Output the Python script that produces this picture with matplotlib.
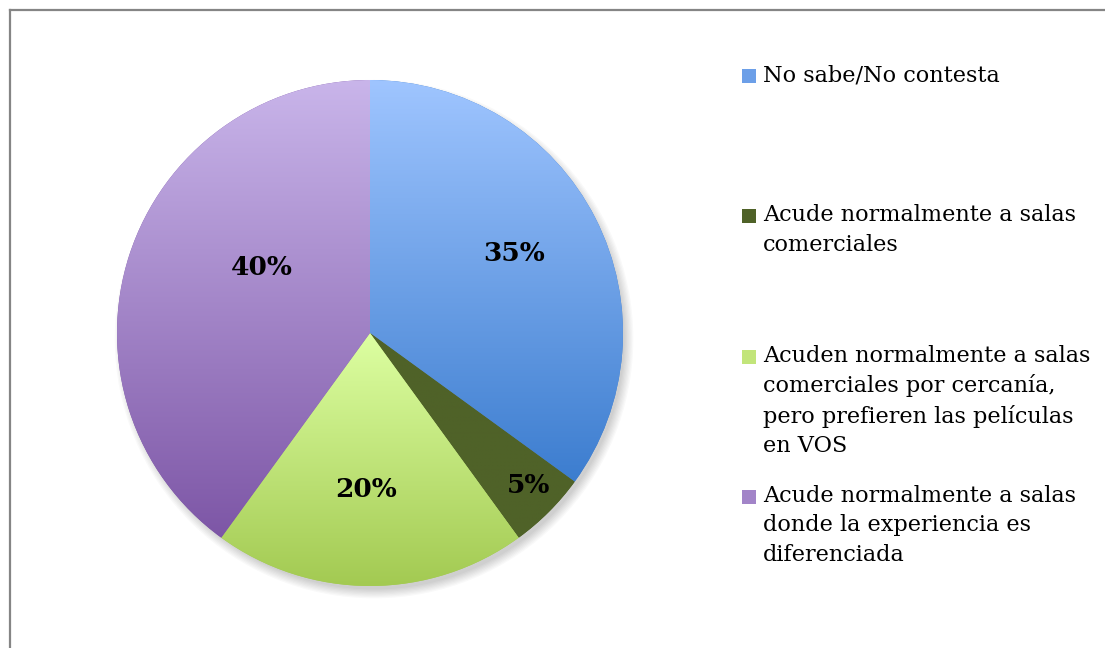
import numpy as np
import matplotlib
matplotlib.use("Agg")
import matplotlib.pyplot as plt
from matplotlib.lines import Line2D
from matplotlib.patches import Rectangle, Circle

labels = [
    "No sabe/No contesta",
    "Acude normalmente a salas\ncomerciales",
    "Acuden normalmente a salas\ncomerciales por cercanía,\npero prefieren las películas\nen VOS",
    "Acude normalmente a salas\ndonde la experiencia es\ndiferenciada",
]
values = [35, 5, 20, 40]
# (top colour, bottom colour) of each slice's vertical gradient
top_colors = ["#9fc5ff", "#4f6228", "#ddffa2", "#c9b5ea"]
bottom_colors = ["#3c7dcf", "#4f6228", "#a3ca52", "#7d56a6"]
legend_colors = ["#6c9fe8", "#4f6228", "#c2e57a", "#a284c8"]

# label placement tweaks (fraction of radius, angle offset in degrees)
label_r = [0.65, 0.87, 0.62, 0.50]
label_dang = [2, 1, -1.5, -13]

W, H = 1105, 648
fig = plt.figure(figsize=(W / 100, H / 100), dpi=100)
fig.patch.set_facecolor("white")

cx, cy, R = 370, 333, 253
ax = fig.add_axes([(cx - R) / W, (H - cy - R) / H, 2 * R / W, 2 * R / H])
ax.set_xlim(-1, 1)
ax.set_ylim(-1, 1)
ax.set_aspect("equal")
ax.axis("off")

# soft shadow under the pie
for i in range(8):
    ax.add_patch(Circle((0.016, -0.024), 0.99 + 0.005 * i, facecolor="black",
                        edgecolor="none", alpha=0.022, zorder=0, clip_on=False))

wedges, _ = ax.pie(values, startangle=90, counterclock=False, radius=1,
                   wedgeprops=dict(linewidth=0, edgecolor="none"))


def hex_rgb(h):
    return np.array(matplotlib.colors.to_rgb(h))


for w, c0, c1 in zip(wedges, top_colors, bottom_colors):
    w.set_zorder(1)
    w.set_facecolor(c1)
    ext = w.get_path().get_extents()
    t = np.linspace(0, 1, 256)[:, None]
    grad = (1 - t) * hex_rgb(c0) + t * hex_rgb(c1)
    img = np.repeat(grad[:, None, :], 2, axis=1)
    im = ax.imshow(img, extent=[ext.x0, ext.x1, ext.y0, ext.y1], origin="upper",
                   aspect="auto", zorder=2, interpolation="bilinear")
    im.set_clip_path(w)
ax.set_xlim(-1, 1)
ax.set_ylim(-1, 1)

for w, v, r, da in zip(wedges, values, label_r, label_dang):
    ang = np.deg2rad((w.theta1 + w.theta2) / 2 + da)
    ax.text(r * np.cos(ang), r * np.sin(ang), f"{v}%", ha="center", va="center",
            fontsize=19, fontweight="bold", family="DejaVu Serif", color="black",
            zorder=5)

# legend drawn at the right
leg_x, leg_y0, step = 742 / W, 76, 140.3
for i, (lab, col) in enumerate(zip(labels, legend_colors)):
    yc = leg_y0 + i * step
    fig.add_artist(Rectangle((leg_x, 1 - (yc + 7) / H), 14 / W, 14 / H,
                             transform=fig.transFigure, facecolor=col,
                             edgecolor="none"))
    fig.text(763 / W, 1 - (yc - 12) / H, lab, ha="left", va="top",
             fontsize=16.1, family="DejaVu Serif", linespacing=1.43)

# frame (top and left edges only visible)
lc = "#858585"
fig.add_artist(Line2D([9.5 / W, 9.5 / W], [0, 1 - 9.5 / H], color=lc, lw=1.6,
                      transform=fig.transFigure))
fig.add_artist(Line2D([9.5 / W, 1], [1 - 9.5 / H, 1 - 9.5 / H], color=lc, lw=1.6,
                      transform=fig.transFigure))

fig.savefig("out.png", dpi=100)
